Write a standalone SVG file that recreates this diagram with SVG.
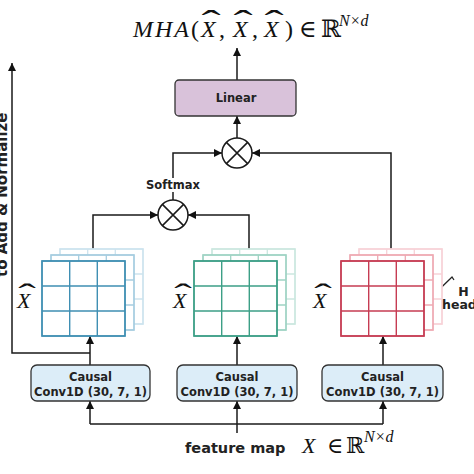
<svg xmlns="http://www.w3.org/2000/svg" width="474" height="474" viewBox="0 0 474 474">
<defs>
<marker id="arr" viewBox="0 0 10 10" refX="10" refY="5" markerWidth="9" markerHeight="8" markerUnits="userSpaceOnUse" orient="auto">
<path d="M0,0 L10,5 L0,10 z" fill="#111"/>
</marker>
<g id="grid">
<rect x="0" y="0" width="83" height="75" fill="#fff"/>
<path d="M0,0 H83 V75 H0 Z M27.7,0 V75 M55.3,0 V75 M0,25 H83 M0,50 H83" fill="none"/>
</g>
</defs>
<style>
.ln{fill:none;stroke:#1a1a1a;stroke-width:1.5}
.lbl{font-family:"DejaVu Sans",Verdana,sans-serif;font-weight:bold;fill:#222}
.math{font-family:"Liberation Serif","DejaVu Serif",serif;font-style:italic;fill:#111}
.rm{font-family:"Liberation Serif","DejaVu Serif",serif;fill:#111}
.hat{font-family:"Liberation Serif","DejaVu Serif",serif;fill:#111;text-anchor:middle}
.box{stroke:#333;stroke-width:1.3}
</style>
<rect width="474" height="474" fill="#fff"/>

<g id="title">
<text class="math" x="133" y="37" font-size="24" letter-spacing="2">MHA</text>
<text class="rm" x="191" y="37" font-size="24">(</text>
<text class="math" x="201" y="37" font-size="24">X</text>
<text class="hat" transform="translate(211,32) scale(2.4,1.3)" font-size="24">ˆ</text>
<text class="rm" x="219" y="37" font-size="24">,</text>
<text class="math" x="233" y="37" font-size="24">X</text>
<text class="hat" transform="translate(243,32) scale(2.4,1.3)" font-size="24">ˆ</text>
<text class="rm" x="252" y="37" font-size="24">,</text>
<text class="math" x="264" y="37" font-size="24">X</text>
<text class="hat" transform="translate(274,32) scale(2.4,1.3)" font-size="24">ˆ</text>
<text class="rm" x="285" y="37" font-size="24">)</text>
<text class="rm" x="299" y="37" font-size="24">∈</text>
<text class="rm" x="321" y="37" font-size="24">ℝ</text>
<text class="math" x="339" y="26" font-size="16">N×d</text>
</g>

<g id="connectors">
<path class="ln" d="M237,80 V48" marker-end="url(#arr)"/>
<path class="ln" d="M237,138 V116" marker-end="url(#arr)"/>
<path class="ln" d="M173,178 V153 H222" marker-end="url(#arr)"/>
<path class="ln" d="M391,249 V153 H252" marker-end="url(#arr)"/>
<path class="ln" d="M173,200 V192"/>
<path class="ln" d="M93,249 V215 H158" marker-end="url(#arr)"/>
<path class="ln" d="M249,249 V215 H188" marker-end="url(#arr)"/>
<path class="ln" d="M90,365 V336" marker-end="url(#arr)"/>
<path class="ln" d="M237,365 V336" marker-end="url(#arr)"/>
<path class="ln" d="M383,365 V336" marker-end="url(#arr)"/>
<path class="ln" d="M90,353 H12 V63" marker-end="url(#arr)"/>
<path class="ln" d="M90,424 V401" marker-end="url(#arr)"/>
<path class="ln" d="M383,424 V401" marker-end="url(#arr)"/>
<path class="ln" d="M237,433 V401" marker-end="url(#arr)"/>
<path class="ln" d="M90,424 H383"/>
<polyline points="416,306 419,309 452,277 454,280" fill="none" stroke="#222" stroke-width="1.3"/>
</g>

<g id="linear">
<rect class="box" x="175" y="80" width="121" height="36" rx="4" fill="#d9c2da"/>
<text class="lbl" x="236" y="102" font-size="11.5" text-anchor="middle">Linear</text>
</g>

<g id="mul-top">
<circle cx="237" cy="153" r="15" fill="#fff" stroke="#1a1a1a" stroke-width="1.5"/>
<path d="M226.4,142.4 L247.6,163.6 M247.6,142.4 L226.4,163.6" stroke="#1a1a1a" stroke-width="1.5"/>
</g>

<g id="softmax">
<text class="lbl" x="173" y="189" font-size="11.5" text-anchor="middle">Softmax</text>
</g>

<g id="mul-bottom">
<circle cx="173" cy="215" r="15" fill="#fff" stroke="#1a1a1a" stroke-width="1.5"/>
<path d="M162.4,204.4 L183.6,225.6 M183.6,204.4 L162.4,225.6" stroke="#1a1a1a" stroke-width="1.5"/>
</g>

<g id="side-label">
<text class="lbl" transform="translate(6.5,277) rotate(-90)" font-size="15">to Add &amp; Normalize</text>
</g>

<g id="stack-q">
<use href="#grid" x="60" y="249" stroke="#cde3ee" stroke-width="1.3"/>
<use href="#grid" x="51" y="255" stroke="#a6cde0" stroke-width="1.3"/>
<use href="#grid" x="42" y="261" stroke="#3f8fb3" stroke-width="1.4"/>
<text class="math" x="17" y="308" font-size="22">X</text>
<text class="hat" transform="translate(27,304) scale(2.4,1.3)" font-size="22">ˆ</text>
</g>

<g id="stack-k">
<use href="#grid" x="212" y="249" stroke="#cbe7df" stroke-width="1.3"/>
<use href="#grid" x="203" y="255" stroke="#9fd3c4" stroke-width="1.3"/>
<use href="#grid" x="194" y="261" stroke="#3c9f86" stroke-width="1.4"/>
<text class="math" x="173" y="308" font-size="22">X</text>
<text class="hat" transform="translate(183,304) scale(2.4,1.3)" font-size="22">ˆ</text>
</g>

<g id="stack-v">
<use href="#grid" x="359" y="249" stroke="#f7d2d7" stroke-width="1.3"/>
<use href="#grid" x="350" y="255" stroke="#eeaab3" stroke-width="1.3"/>
<use href="#grid" x="341" y="261" stroke="#c63c53" stroke-width="1.4"/>
<text class="math" x="313" y="308" font-size="22">X</text>
<text class="hat" transform="translate(323,304) scale(2.4,1.3)" font-size="22">ˆ</text>
</g>

<g id="heads-label">
<text class="lbl" x="463.5" y="296" font-size="12.5" text-anchor="middle">H</text>
<text class="lbl" x="442" y="309" font-size="12.5">heads</text>
</g>

<g id="conv1">
<rect class="box" x="31" y="365" width="119" height="36" rx="6" fill="#dcedf8"/>
<text class="lbl" x="90.5" y="381" font-size="11.5" text-anchor="middle">Causal</text>
<text class="lbl" x="90.5" y="396" font-size="11.5" text-anchor="middle">Conv1D (30, 7, 1)</text>
</g>
<g id="conv2">
<rect class="box" x="177" y="365" width="120" height="36" rx="6" fill="#dcedf8"/>
<text class="lbl" x="237" y="381" font-size="11.5" text-anchor="middle">Causal</text>
<text class="lbl" x="237" y="396" font-size="11.5" text-anchor="middle">Conv1D (30, 7, 1)</text>
</g>
<g id="conv3">
<rect class="box" x="322" y="365" width="121" height="36" rx="6" fill="#dcedf8"/>
<text class="lbl" x="382.5" y="381" font-size="11.5" text-anchor="middle">Causal</text>
<text class="lbl" x="382.5" y="396" font-size="11.5" text-anchor="middle">Conv1D (30, 7, 1)</text>
</g>

<g id="input">
<text class="lbl" x="185" y="453" font-size="14.5">feature map</text>
<text class="math" x="302" y="453" font-size="22">X</text>
<text class="rm" x="327" y="453" font-size="22">∈</text>
<text class="rm" x="346" y="453" font-size="22">ℝ</text>
<text class="math" x="364" y="442" font-size="16">N×d</text>
</g>
</svg>
